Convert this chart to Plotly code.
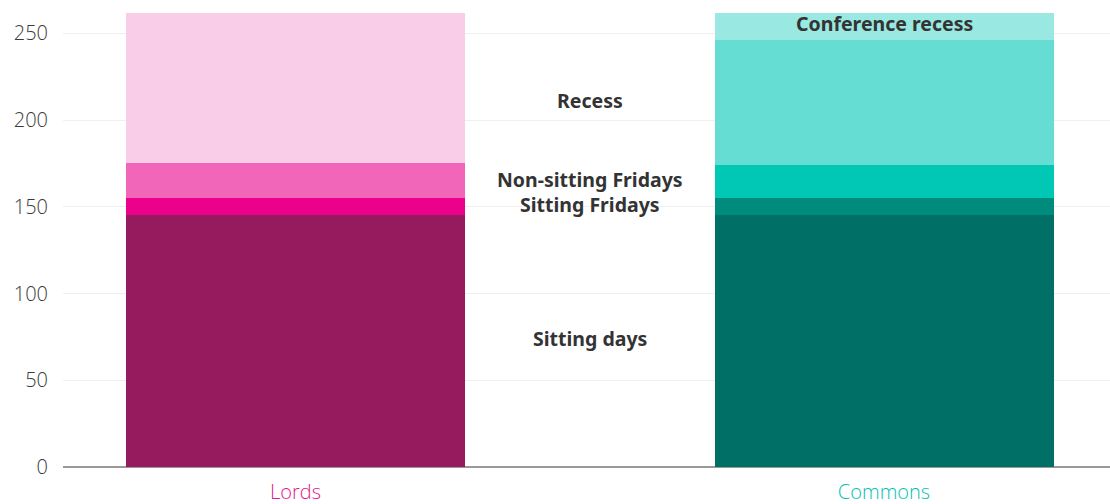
import plotly.graph_objects as go

houses = ["Lords", "Commons"]
segments = ["Sitting days", "Sitting Fridays", "Non-sitting Fridays", "Recess", "Conference recess"]
lords_days = [145, 10, 20, 87, 0]
commons_days = [145, 10, 19, 72, 16]
lords_colors = ["#951a5e", "#ec008c", "#f266b9", "#f9cce8", "#f9cce8"]
commons_colors = ["#007066", "#008c7d", "#00c8b4", "#66ddd3", "#99e8e1"]
house_label_colors = ["#e6168e", "#00c4b0"]

fig = go.Figure()
for i, seg in enumerate(segments):
    fig.add_trace(go.Bar(
        x=houses, y=[lords_days[i], commons_days[i]], name=seg,
        marker=dict(color=[lords_colors[i], commons_colors[i]], line=dict(width=0)),
        width=0.576, showlegend=False,
    ))

# labels at the midpoints of the Commons segments
cum = 0
for i, seg in enumerate(segments):
    mid = cum + commons_days[i] / 2
    cum += commons_days[i]
    xpos = 1 if seg == "Conference recess" else 0.5
    fig.add_annotation(x=xpos, y=mid + 1.5, xref="x", yref="y", text=f"<b>{seg}</b>",
                       showarrow=False, font=dict(family="Noto Sans", size=19.5, color="#333333"))

total = max(sum(lords_days), sum(commons_days))
fig.update_layout(
    width=1110, height=504, margin=dict(l=63, r=0, t=12, b=37),
    barmode="stack", bargap=0, plot_bgcolor="white", paper_bgcolor="white",
    font=dict(family="Open Sans", size=20, color="#3a3a3a"),
    xaxis=dict(type="category", range=[-0.395, 1.384], showgrid=False, automargin=False,
               tickmode="array", tickvals=houses,
               ticktext=[f"<span style='color:{c}'>{h}</span>" for h, c in zip(houses, house_label_colors)],
               ticklabelstandoff=11, tickfont=dict(family="Open Sans", size=20, weight=350),
               showline=False, zeroline=False),
    yaxis=dict(range=[0, total + 0.3], tickvals=[0, 50, 100, 150, 200, 250], automargin=False,
               gridcolor="#efefef", gridwidth=1, zeroline=True, zerolinecolor="#999999",
               zerolinewidth=2, ticklabelstandoff=14,
               tickfont=dict(family="Open Sans", size=20, color="#3a3a3a", weight=350),
               showline=False),
)
fig.write_html("out.html", config={"displayModeBar": False},
               post_script="document.body.style.margin='0';document.body.style.overflow='hidden';")
